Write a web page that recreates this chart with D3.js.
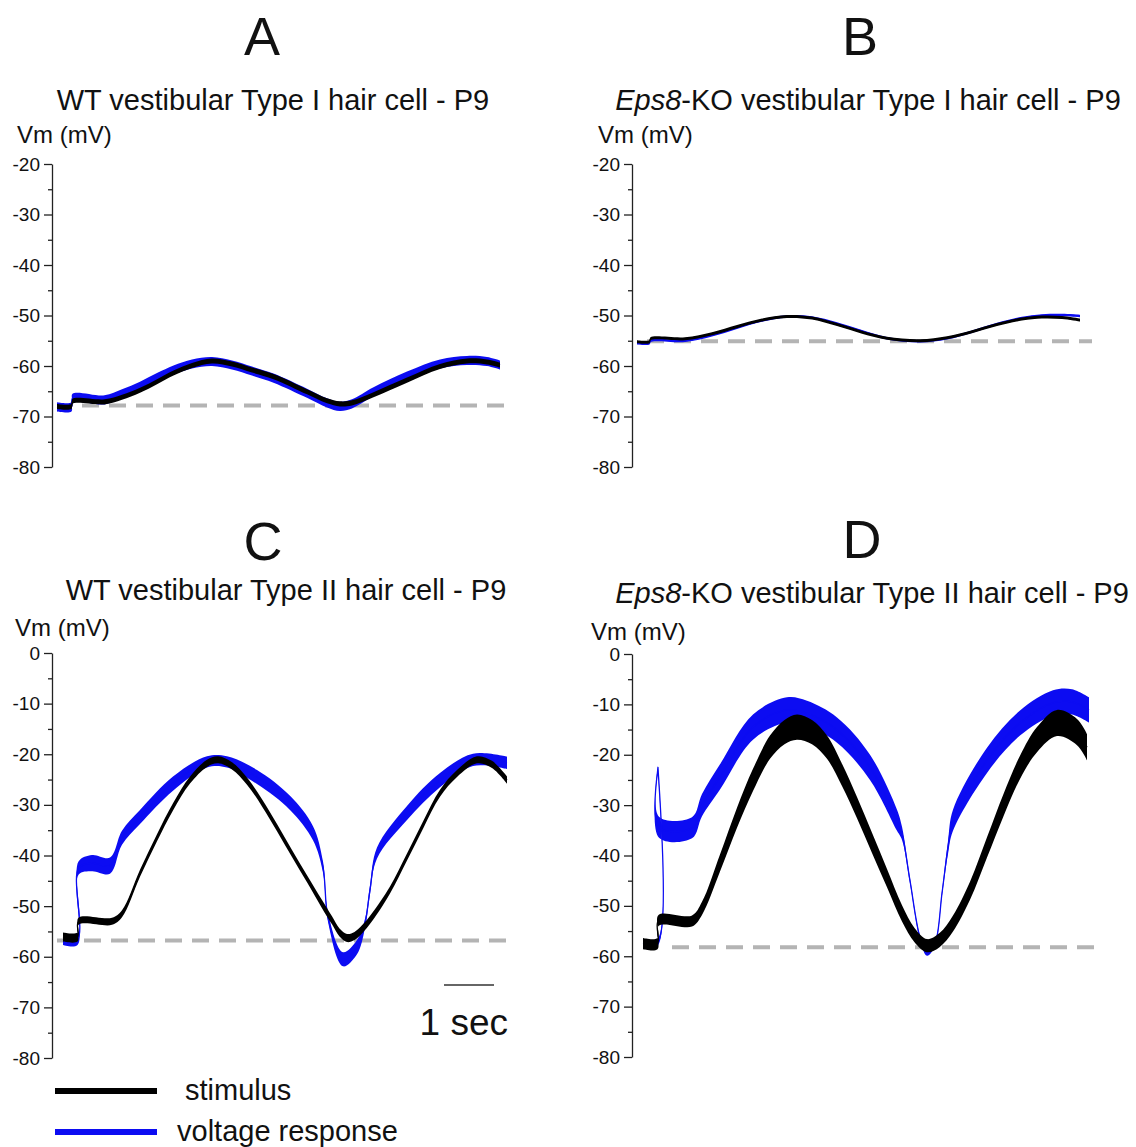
<!DOCTYPE html>
<html>
<head>
<meta charset="utf-8">
<script src="https://cdn.jsdelivr.net/npm/d3@7"></script>
<style>
body { margin: 0; background: #fff; }
text { font-family: "Liberation Sans", Arial, sans-serif; fill: #111; }
</style>
</head>
<body>
<script>

// traces: [time (s), Vm (mV), noise half-width (mV)]
var stimA = [[0,-68,0.5],[0.29,-68,0.5],[0.31,-67,0.5],[0.95,-67.1,0.5],[1.3,-66.2,0.5],[1.66,-64.8,0.5],[2.0,-63.1,0.5],
	[2.33,-61.4,0.5],[2.7,-59.9,0.5],[3.1,-59,0.5],[3.5,-59.6,0.5],[3.9,-60.8,0.5],[4.33,-62.1,0.5],[5.0,-65.1,0.5],
	[5.4,-66.9,0.5],[5.66,-67.5,0.5],[5.9,-67.3,0.5],[6.33,-65.7,0.5],[7.0,-62.8,0.5],[7.66,-60.1,0.5],[8.2,-59,0.5],
	[8.6,-59.2,0.5],[8.86,-59.8,0.5]];
var respA = [[0,-68.1,0.9],[0.29,-68.1,0.9],[0.31,-66.4,0.9],[0.95,-66.7,0.9],[1.3,-65.5,0.9],[1.66,-64,0.9],[2.0,-62.3,0.9],
	[2.33,-60.8,0.9],[2.7,-59.6,0.9],[3.1,-59.1,0.9],[3.5,-59.8,0.9],[3.9,-61,0.9],[4.33,-62.4,0.9],[5.0,-65.4,0.9],
	[5.4,-67.3,0.9],[5.66,-68,0.9],[5.9,-67.5,0.9],[6.33,-65.1,0.9],[7.0,-62,0.9],[7.66,-59.6,0.9],[8.2,-58.9,0.9],
	[8.6,-59.1,0.9],[8.86,-59.8,0.9]];

var stimB = [[0,-55.2,0.3],[0.25,-55.2,0.3],[0.27,-54.6,0.3],[0.96,-54.6,0.3],[1.5,-53.6,0.3],[2.0,-52.2,0.3],[2.5,-50.9,0.3],
	[3.0,-50.2,0.3],[3.5,-50.5,0.3],[4.0,-51.8,0.3],[4.5,-53.3,0.3],[5.0,-54.5,0.3],[5.66,-55,0.3],[6.2,-54.4,0.3],
	[6.7,-53.2,0.3],[7.2,-51.8,0.3],[7.7,-50.7,0.3],[8.1,-50.3,0.3],[8.5,-50.4,0.3],[8.86,-50.9,0.3]];
var respB = [[0,-55.5,0.25],[0.25,-55.5,0.25],[0.27,-55,0.25],[0.96,-55,0.25],[1.5,-53.9,0.25],[2.0,-52.4,0.25],[2.5,-51,0.25],
	[3.0,-50.2,0.25],[3.5,-50.4,0.25],[4.0,-51.6,0.25],[4.5,-53.1,0.25],[5.0,-54.5,0.25],[5.66,-55.1,0.25],[6.2,-54.5,0.25],
	[6.7,-53.2,0.25],[7.2,-51.7,0.25],[7.7,-50.5,0.25],[8.1,-50,0.25],[8.5,-49.9,0.25],[8.86,-50.1,0.25]];

var stimC = [[0.12,-56.1,0.9],[0.41,-56.1,0.9],[0.43,-53,0.7],[1.1,-53,0.7],[1.3,-51.5,0.7],[1.66,-43.5,0.7],[2.0,-36.5,0.7],
	[2.32,-30.4,0.7],[2.66,-25.1,0.7],[3.0,-21.8,0.7],[3.22,-21.1,0.7],[3.5,-22.3,0.7],[3.8,-25.3,0.7],[4.1,-29.6,0.7],
	[4.4,-34.5,0.7],[4.7,-39.6,0.7],[5.0,-44.6,0.7],[5.3,-49.6,0.8],[5.5,-52.8,0.8],[5.65,-55.2,0.8],[5.8,-56.3,0.8],
	[5.95,-55.9,0.8],[6.1,-54.6,0.8],[6.3,-52.2,0.8],[6.66,-46.8,0.7],[7.0,-40.3,0.7],[7.33,-33.8,0.7],[7.66,-27.7,0.7],
	[8.0,-23.8,0.7],[8.4,-21.1,0.7],[8.7,-22,0.7],[9.0,-25.1,0.7]];
var respC = [[0.12,-56.5,1.2],[0.41,-56.5,1.2],[0.43,-42.5,1.3],[0.7,-41.5,1.6],[1.06,-42,1.6],[1.3,-36.5,1.4],[1.66,-32.4,1.4],
	[2.32,-25.8,1.4],[3.0,-21.5,1.1],[3.4,-21.5,1.1],[4.0,-24.5,1.4],[4.66,-29.6,1.4],[5.12,-35.6,1.4],[5.32,-42.3,1.1],
	[5.42,-52.2,0.9],[5.72,-60.5,1.4],[6.0,-58.1,1.4],[6.16,-53.4,0.9],[6.26,-46.8,0.9],[6.4,-39.5,1.1],[7.0,-31.6,1.4],
	[7.66,-25.1,1.4],[8.32,-21.1,1.2],[9.0,-21.7,1.2]];

var stimD = [[0.12,-57.5,1.1],[0.41,-57.5,1.1],[0.43,-52.9,1.1],[1.1,-53,1.1],[1.3,-50.5,1.3],[1.66,-41.5,1.7],[2.0,-32.5,2],
	[2.32,-25,2.2],[2.66,-18.5,2.3],[2.95,-15.5,2.4],[3.2,-14.5,2.5],[3.5,-15.5,2.4],[3.8,-18.5,2.3],[4.1,-24,2.2],
	[4.4,-30.5,2.1],[4.7,-37.5,2],[5.0,-44.5,1.8],[5.3,-51.5,1.6],[5.55,-55.8,1.4],[5.8,-57.9,1.3],[6.05,-56.8,1.4],
	[6.32,-53.5,1.6],[6.66,-47,1.8],[7.0,-38.4,2],[7.33,-30,2.2],[7.66,-22.5,2.3],[8.0,-17,2.5],[8.4,-13.7,2.6],
	[8.8,-15.5,2.6],[9.0,-18.5,2.6]];
var respD = [[0.12,-57.3,0.7],[0.41,-57.3,0.7],[0.42,-22.5,0.4],[0.44,-34.4,2.1],[1.1,-34.5,2.1],[1.3,-30,2.2],[1.66,-24.4,2.5],
	[2.32,-14.5,2.5],[3.0,-11.1,2.5],[3.4,-11.8,2.5],[4.0,-15.1,2.5],[4.66,-22.5,2.5],[5.2,-33,2.1],[5.3,-35.6,1.3],[5.46,-45,0.5],
	[5.66,-56.3,0.4],[5.8,-59.5,0.4],[5.96,-57.5,0.4],[6.1,-47.5,0.5],[6.22,-38.4,1.3],[6.32,-33,2.1],[7.0,-21.1,2.5],
	[7.66,-13.7,2.5],[8.32,-9.7,2.5],[8.7,-9.5,2.5],[9.04,-11.1,2.5]];

// resting potential (dashed) and its time span
var baseVm = [-67.8, -55.1, -56.8, -58.2];
var baseSpan = [[0.5, 9.02], [0.2, 9.1], [0, 8.98], [0.7, 9.26]];

var letters = ["A", "B", "C", "D"];
var titleKO = [false, true, false, true];
var titleRest = ["WT vestibular Type I hair cell - P9", "-KO vestibular Type I hair cell - P9",
	"WT vestibular Type II hair cell - P9", "-KO vestibular Type II hair cell - P9"];
var ticksTop = [-80, -70, -60, -50, -40, -30, -20];
var ticksBottom = [-80, -70, -60, -50, -40, -30, -20, -10, 0];
var legendLabels = ["stimulus", "voltage response"];
var stimColor = "#000", respColor = "#0c0cf2";

var width = 1136,
	height = 1147;

var svg = d3.select("body").append("svg")
		.attr("width", width)
		.attr("height", height);

var panels = [
	{ax: 52, yTop: 164, yBot: 467, dom: [-80, -20], ticks: ticksTop, letter: [262, 55], title: [273, 110], vm: [17, 143], stim: stimA, resp: respA},
	{ax: 632, yTop: 164, yBot: 467, dom: [-80, -20], ticks: ticksTop, letter: [860, 55], title: [868, 110], vm: [598, 143], stim: stimB, resp: respB},
	{ax: 52, yTop: 653, yBot: 1058, dom: [-80, 0], ticks: ticksBottom, letter: [263, 560], title: [286, 600], vm: [15, 636], stim: stimC, resp: respC},
	{ax: 632, yTop: 654, yBot: 1057, dom: [-80, 0], ticks: ticksBottom, letter: [862, 558], title: [872, 603], vm: [591, 640], stim: stimD, resp: respD}
];

panels.forEach(function(p, i){
	var g = svg.append("g");
	var x = d3.scaleLinear().domain([0, 9]).range([p.ax + 5, p.ax + 455]);
	var y = d3.scaleLinear().domain(p.dom).range([p.yBot, p.yTop]);
	p.x = x; p.y = y;

	g.append("text")
		.attr("x", p.letter[0]).attr("y", p.letter[1])
		.attr("text-anchor", "middle")
		.style("font-size", "54px")
		.text(letters[i]);

	var t = g.append("text")
		.attr("x", p.title[0]).attr("y", p.title[1])
		.attr("text-anchor", "middle")
		.style("font-size", "29px");
	if (titleKO[i]) t.append("tspan").style("font-style", "italic").text("Eps8");
	t.append("tspan").text(titleRest[i]);

	g.append("text")
		.attr("x", p.vm[0]).attr("y", p.vm[1])
		.style("font-size", "24px")
		.text("Vm (mV)");

	// minor ticks every 5 mV
	var minor = d3.range(p.dom[0] + 5, p.dom[1], 10);
	g.append("g")
		.attr("transform", "translate(" + p.ax + ",0)")
		.call(d3.axisLeft(y).tickValues(minor).tickSize(4).tickFormat(""))
		.call(function(s){ s.select(".domain").remove(); });

	var ax = g.append("g")
		.attr("transform", "translate(" + p.ax + ",0)")
		.call(d3.axisLeft(y).tickValues(p.ticks).tickSize(8).tickSizeOuter(0).tickPadding(4)
			.tickFormat(function(d){ return String(d); }));
	ax.selectAll("text").style("font-size", "19px").style("font-family", "'Liberation Sans', Arial, sans-serif").attr("fill", "#111");
	ax.selectAll("line, path").attr("stroke", "#222").attr("stroke-width", 1.3);
	g.selectAll("g.tick line").attr("stroke", "#222").attr("stroke-width", 1.3);

	g.append("line")
		.attr("x1", x(baseSpan[i][0])).attr("x2", x(baseSpan[i][1]))
		.attr("y1", y(baseVm[i])).attr("y2", y(baseVm[i]))
		.attr("stroke", "#b4b4b4")
		.attr("stroke-width", 4)
		.attr("stroke-dasharray", "17,10");

	var band = d3.area()
		.x(function(d){ return x(d[0]); })
		.y0(function(d){ return y(d[1] - d[2]); })
		.y1(function(d){ return y(d[1] + d[2]); })
		.curve(d3.curveCatmullRom.alpha(0.5));
	var mid = d3.line()
		.x(function(d){ return x(d[0]); })
		.y(function(d){ return y(d[1]); })
		.curve(d3.curveCatmullRom.alpha(0.5));

	[[p.resp, respColor], [p.stim, stimColor]].forEach(function(tr){
		g.append("path").attr("d", band(tr[0])).attr("fill", tr[1]);
		g.append("path").attr("d", mid(tr[0]))
			.attr("fill", "none")
			.attr("stroke", tr[1])
			.attr("stroke-width", 1.3);
	});
});

// 1 sec scale bar in panel C
var pc = panels[2];
svg.append("line")
	.attr("x1", pc.x(7.74)).attr("x2", pc.x(8.74))
	.attr("y1", pc.y(-65.6)).attr("y2", pc.y(-65.6))
	.attr("stroke", "#333")
	.attr("stroke-width", 1.5);
svg.append("text")
	.attr("x", pc.x(9.02)).attr("y", pc.y(-75.5))
	.attr("text-anchor", "end")
	.style("font-size", "37px")
	.text("1 sec");

// legend
var legend = svg.selectAll("g.legend")
		.data(legendLabels)
	.enter().append("g")
		.attr("class", "legend")
		.attr("transform", function(d, i){ return "translate(0," + (1091 + i * 41) + ")"; });
legend.append("line")
	.attr("x1", 55).attr("x2", 157)
	.attr("stroke", function(d, i){ return i ? respColor : stimColor; })
	.attr("stroke-width", 6);
legend.append("text")
	.attr("x", function(d, i){ return i ? 177 : 185; })
	.attr("y", 9)
	.style("font-size", "29px")
	.text(function(d){ return d; });

</script>
</body>
</html>
